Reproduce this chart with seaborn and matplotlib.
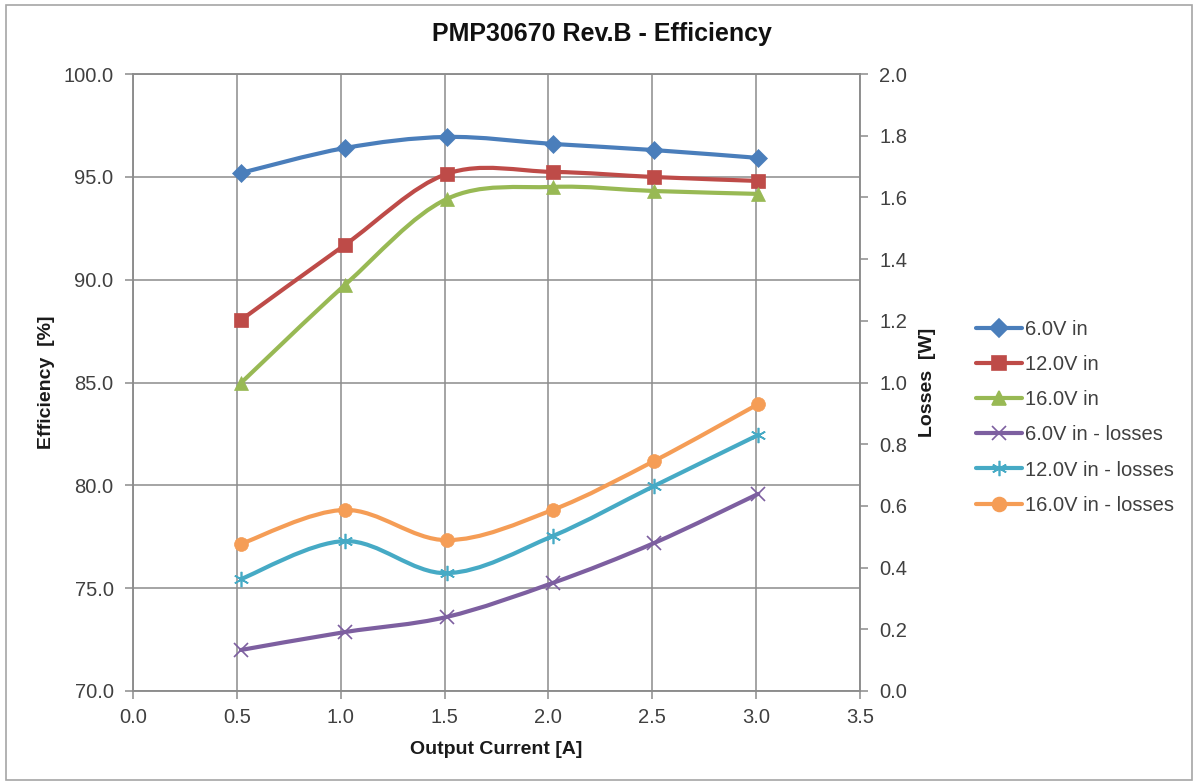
import matplotlib
matplotlib.use("Agg")
import matplotlib.pyplot as plt
import seaborn as sns
import numpy as np
import pandas as pd
from matplotlib.path import Path
from matplotlib.patches import PathPatch, Rectangle
from matplotlib.lines import Line2D
from matplotlib.ticker import FormatStrFormatter

# ---------------- data ----------------
current = [0.52, 1.02, 1.51, 2.02, 2.51, 3.01]
eff_6v = [95.19, 96.40, 96.94, 96.60, 96.30, 95.92]
eff_12v = [88.04, 91.69, 95.14, 95.24, 94.99, 94.80]
eff_16v = [84.98, 89.74, 93.92, 94.51, 94.31, 94.17]
loss_6v = [0.133, 0.191, 0.240, 0.350, 0.480, 0.639]
loss_12v = [0.363, 0.486, 0.382, 0.502, 0.665, 0.830]
loss_16v = [0.477, 0.587, 0.489, 0.587, 0.746, 0.930]

labels = ["6.0V in", "12.0V in", "16.0V in",
          "6.0V in - losses", "12.0V in - losses", "16.0V in - losses"]
x_ticks = [0.0, 0.5, 1.0, 1.5, 2.0, 2.5, 3.0, 3.5]
eff_ticks = [70, 75, 80, 85, 90, 95, 100]
loss_ticks = [0.0, 0.2, 0.4, 0.6, 0.8, 1.0, 1.2, 1.4, 1.6, 1.8, 2.0]

colors = ["#4A7EBB", "#BE4B48", "#98B954", "#7D5FA0", "#46AAC5", "#F59D56"]
markers = ["D", "s", "^", "x", (6, 2, 0), "o"]
msizes = [9, 10, 10, 10, 11, 10]

sns.set_theme(style="white")
plt.rcParams["font.family"] = ["Liberation Sans", "DejaVu Sans"]

GRID = "#8c8c8c"
TXT = "#404040"

fig = plt.figure(figsize=(11.96, 7.82), dpi=100)
ax = fig.add_axes([133 / 1196, 1 - 691 / 782, (860 - 133) / 1196, (691 - 74) / 782])
ax2 = ax.twinx()


def smooth_patch(axis, xs, ys, color):
    n = len(xs)
    verts = [(xs[0], ys[0])]
    codes = [Path.MOVETO]
    for i in range(n - 1):
        a = i - 1 if i > 0 else i
        d = i + 2 if i + 2 < n else i + 1
        c1 = (xs[i] + (xs[i + 1] - xs[a]) / 6, ys[i] + (ys[i + 1] - ys[a]) / 6)
        c2 = (xs[i + 1] - (xs[d] - xs[i]) / 6, ys[i + 1] - (ys[d] - ys[i]) / 6)
        verts += [c1, c2, (xs[i + 1], ys[i + 1])]
        codes += [Path.CURVE4] * 3
    patch = PathPatch(Path(verts, codes), facecolor="none", edgecolor=color,
                      lw=3.0, capstyle="round", joinstyle="round", zorder=3)
    axis.add_patch(patch)


series = [(ax, eff_6v), (ax, eff_12v), (ax, eff_16v),
          (ax2, loss_6v), (ax2, loss_12v), (ax2, loss_16v)]

for (axis, ys), col, mk, ms, lab in zip(series, colors, markers, msizes, labels):
    smooth_patch(axis, current, ys, col)
    df = pd.DataFrame({"x": current, "y": ys})
    sns.lineplot(data=df, x="x", y="y", ax=axis, color=col, marker=mk,
                 markersize=ms, linestyle="", markeredgecolor=col,
                 markeredgewidth=1.2 if mk in ("x", (6, 2, 0)) else 0.5,
                 zorder=4, legend=False)

# axes styling
ax.set_xlim(0, 3.5)
ax.set_ylim(70, 100)
ax2.set_ylim(0, 2.0)
ax.set_xticks(x_ticks)
ax.set_yticks(eff_ticks)
ax2.set_yticks(loss_ticks)
ax.xaxis.set_major_formatter(FormatStrFormatter("%.1f"))
ax.yaxis.set_major_formatter(FormatStrFormatter("%.1f"))
ax2.yaxis.set_major_formatter(FormatStrFormatter("%.1f"))

ax.grid(True, color=GRID, lw=1.1)
ax2.grid(False)
for a in (ax, ax2):
    for s in a.spines.values():
        s.set_color(GRID)
        s.set_linewidth(1.1)
    a.tick_params(colors=TXT, labelsize=14.5, length=6, width=1.1, color=GRID,
                  direction="out")
ax.tick_params(axis="x", pad=6, bottom=True)
ax.tick_params(axis="y", pad=8, left=True)
ax2.tick_params(axis="y", pad=8, right=True)

ax.set_xlabel("Output Current [A]", fontsize=14, fontweight="bold", color="#1a1a1a", labelpad=10)
ax.set_ylabel("Efficiency  [%]", fontsize=14, fontweight="bold", color="#1a1a1a", labelpad=6)
ax2.set_ylabel("Losses  [W]", fontsize=14, fontweight="bold", color="#1a1a1a", labelpad=8)

fig.text(0.503, 1 - 34 / 782, "PMP30670 Rev.B - Efficiency", ha="center", va="center",
         fontsize=18, fontweight="bold", color="#111111")

handles = [Line2D([0], [0], color=c, lw=3.0, marker=m, markersize=s,
                  markeredgecolor=c, markeredgewidth=1.2)
           for c, m, s in zip(colors, markers, msizes)]
fig.legend(handles, labels, loc="upper left", bbox_to_anchor=(968 / 1196, 1 - 312 / 782),
           frameon=False, fontsize=14.5, handlelength=2.3, handletextpad=0.15,
           labelspacing=0.8, labelcolor=TXT, borderaxespad=0)

fig.patches.append(Rectangle((6 / 1196, 2 / 782), 1186 / 1196, 775 / 782,
                             transform=fig.transFigure, fill=False,
                             edgecolor="#a6a6a6", lw=1.2))

fig.savefig("out.png", dpi=100)
